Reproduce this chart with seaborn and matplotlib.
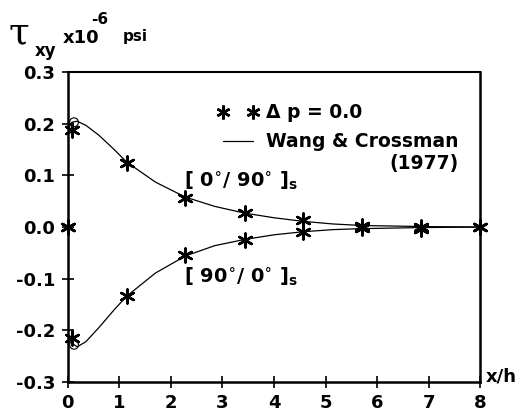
import matplotlib
matplotlib.use("Agg")
import matplotlib.pyplot as plt
from matplotlib.lines import Line2D
import seaborn as sns
import pandas as pd

sns.set_theme(style="ticks")
plt.rcParams["font.family"] = ["DejaVu Sans"]
plt.rcParams["font.weight"] = "bold"
plt.rcParams["mathtext.fontset"] = "dejavusans"
plt.rcParams["mathtext.default"] = "bf"
plt.rcParams["text.color"] = "black"
plt.rcParams["xtick.color"] = "black"
plt.rcParams["ytick.color"] = "black"

# Finite-element results (Δp = 0.0): stars
fe_x = [0.08, 1.14, 2.28, 3.43, 4.57, 5.71, 6.86, 8.0, 0.0]
fe_upper = [0.188, 0.124, 0.057, 0.027, 0.013, 0.002, 0.001, 0.0, 0.0]
fe_lower = [-0.215, -0.133, -0.054, -0.025, -0.010, -0.002, -0.003, 0.0, 0.0]

# Wang & Crossman (1977) solution: solid curves
wc_x = [0.0, 0.08, 0.18, 0.35, 0.6, 0.9, 1.14, 1.7, 2.28, 2.85, 3.43, 4.0, 4.57, 5.14, 5.71, 6.86, 8.0]
wc_upper = [0.19, 0.203, 0.205, 0.197, 0.178, 0.15, 0.126, 0.087, 0.058, 0.040, 0.027, 0.018, 0.011, 0.006, 0.003, 0.001, 0.0]
wc_lower = [-0.205, -0.225, -0.232, -0.222, -0.195, -0.16, -0.134, -0.089, -0.056, -0.036, -0.024, -0.015, -0.009, -0.005, -0.003, -0.001, 0.0]

# Open circles at the free edge
edge_x = [0.12, 0.12]
edge_y = [0.203, -0.228]

x_ticks = [0, 1, 2, 3, 4, 5, 6, 7, 8]
y_ticks = [-0.3, -0.2, -0.1, 0.0, 0.1, 0.2, 0.3]
y_labels = ["-0.3", "-0.2", "-0.1", "0.0", "0.1", "0.2", "0.3"]

fig = plt.figure(figsize=(5.26, 4.17), dpi=100)
ax = fig.add_axes([0.129, 0.084, 0.784, 0.743])

wc = pd.DataFrame({"x": wc_x * 2, "y": wc_upper + wc_lower,
                   "ply": ["0/90"] * len(wc_x) + ["90/0"] * len(wc_x)})
sns.lineplot(data=wc, x="x", y="y", units="ply", estimator=None,
             color="black", linewidth=0.9, ax=ax, legend=False, sort=False)

fe = pd.DataFrame({"x": fe_x * 2, "y": fe_upper + fe_lower})
asterisk = (6, 2, 0)
sns.scatterplot(data=fe, x="x", y="y", marker=asterisk, s=100,
                color="black", linewidth=1.8, ax=ax, legend=False, zorder=5)
ax.collections[-1].set_clip_on(False)

sns.scatterplot(x=edge_x, y=edge_y, marker="o", s=40, facecolor="none",
                edgecolor="black", linewidth=0.8, ax=ax, legend=False, zorder=4)

ax.set_xlim(0, 8)
ax.set_ylim(-0.3, 0.3)
ax.set_xticks(x_ticks)
ax.set_xticklabels([str(v) for v in x_ticks])
ax.set_yticks(y_ticks)
ax.set_yticklabels(y_labels)
ax.tick_params(direction="inout", length=8, width=1.2, colors="black",
               labelsize=13, pad=5)
for lab in ax.get_xticklabels() + ax.get_yticklabels():
    lab.set_fontweight("bold")
for sp in ax.spines.values():
    sp.set_visible(True)
    sp.set_color("black")
    sp.set_linewidth(1.8)
ax.spines["top"].set_linewidth(1.5)
ax.set_xlabel("")
ax.set_ylabel("")

# axis captions
fig.text(9 / 526, 1 - 33 / 417, "τ", family="DejaVu Serif", fontsize=27,
         fontweight="normal", ha="left", va="center")
fig.text(35 / 526, 1 - 51 / 417, "xy", fontsize=12, fontweight="bold",
         ha="left", va="center")
fig.text(63 / 526, 1 - 38 / 417, "x10", fontsize=13, fontweight="bold",
         ha="left", va="center")
fig.text(91 / 526, 1 - 20 / 417, "-6", fontsize=11, fontweight="bold",
         ha="left", va="center")
fig.text(123 / 526, 1 - 37 / 417, "psi", fontsize=11, fontweight="bold",
         ha="left", va="center")
ax.text(8.1, -0.29, "x/h", fontsize=13, fontweight="bold", ha="left",
        va="center")

# laminate labels
ax.text(2.25, 0.079, r"[ 0$^{\circ}$/ 90$^{\circ}$ ]$_{\mathbf{s}}$",
        fontsize=14, fontweight="bold", ha="left", va="baseline")
ax.text(2.25, -0.108, r"[ 90$^{\circ}$/ 0$^{\circ}$ ]$_{\mathbf{s}}$",
        fontsize=14, fontweight="bold", ha="left", va="baseline")

handles = [
    Line2D([], [], marker=asterisk, color="black", linestyle="none",
           markersize=10, markeredgewidth=1.8),
    Line2D([], [], color="black", linewidth=0.9),
]
leg = ax.legend(handles, ["Δ p = 0.0", "Wang & Crossman"],
                loc="upper left", bbox_to_anchor=(0.362, 0.90),
                frameon=False, numpoints=2, handlelength=2.2,
                handletextpad=0.4, labelspacing=0.55, borderpad=0,
                borderaxespad=0, prop={"weight": "bold", "size": 13.5})
ax.text(0.947, 0.706, "(1977)", transform=ax.transAxes, ha="right",
        va="center", fontsize=13.5, fontweight="bold")

fig.savefig("out.png", dpi=100)
